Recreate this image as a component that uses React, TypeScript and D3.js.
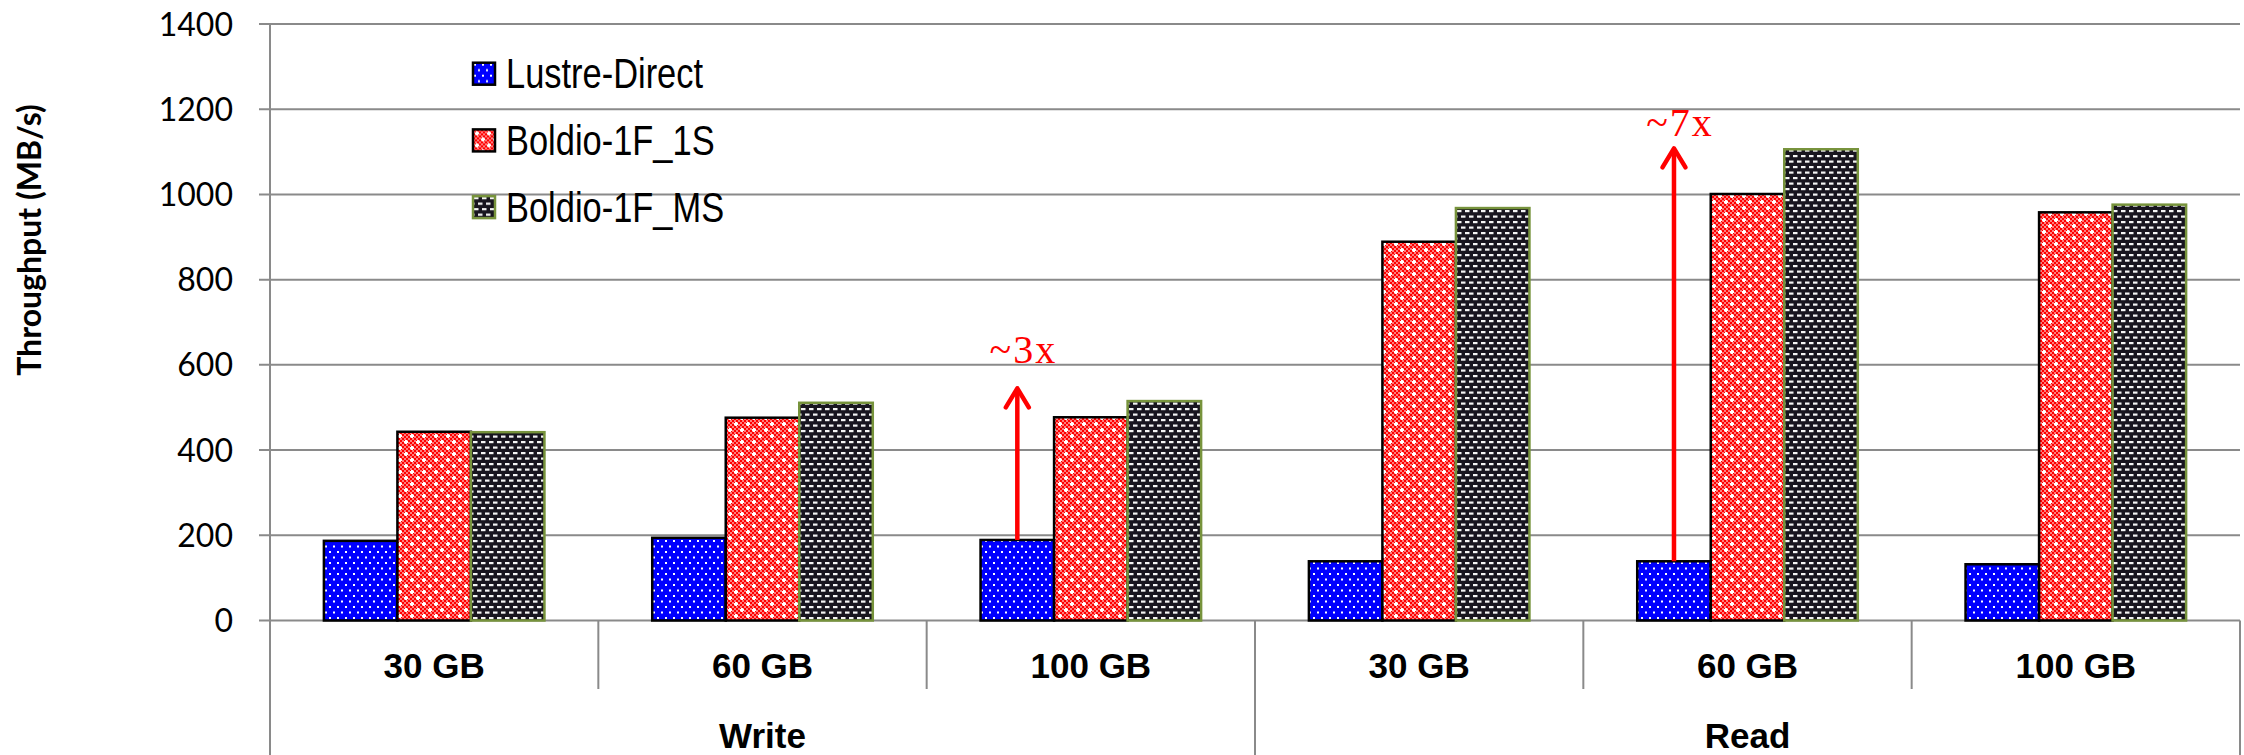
import React from "react";
import * as d3 from "d3";

// Throughput per workload (MB/s)
const groups = ["Write", "Read"];
const sizes = ["30 GB", "60 GB", "100 GB"];
const seriesNames = ["Lustre-Direct", "Boldio-1F_1S", "Boldio-1F_MS"];
const lustreDirect = [187, 194, 189, 139, 139, 132];
const boldio1F1S = [443, 476, 477, 889, 1001, 958];
const boldio1FMS = [442, 511, 515, 968, 1106, 976];
const yTicks = [0, 200, 400, 600, 800, 1000, 1200, 1400];

// Speed-up call-outs: arrow from the Lustre-Direct bar up to `tip`, label sits at `labelAt`
const speedups = [
  { cat: 2, tip: 545, labelAt: 604, label: "~3x" },
  { cat: 4, tip: 1108, labelAt: 1137, label: "~7x" },
];

const W = 2244;
const H = 755;
const left = 270;
const right = 2240;
const top = 24;
const zeroY = 620.5;
const grid = "#8a8a8a";

const catIdx = d3.range(groups.length * sizes.length);
const values = [lustreDirect, boldio1F1S, boldio1FMS];

const x0 = d3.scaleBand<number>().domain(catIdx).range([left, right]).paddingInner(0).paddingOuter(0);
const x1 = d3
  .scaleBand<number>()
  .domain([0, 1, 2])
  .range([0, x0.bandwidth()])
  .paddingInner(0)
  .paddingOuter(0.733);
const y = d3.scaleLinear().domain([0, 1400]).range([zeroY, top]);

const fills = ["url(#pLustre)", "url(#pOne)", "url(#pMulti)"];
const strokes = ["#000000", "#000000", "#77933c"];

export default function App() {
  const groupSpan = sizes.length * x0.step();
  return (
    <svg
      width={W}
      height={H}
      viewBox={`0 0 ${W} ${H}`}
      style={{ position: "absolute", left: 0, top: 0, background: "#fff" }}
    >
      <defs>
        <pattern id="pLustre" width={8} height={11} patternUnits="userSpaceOnUse">
          <rect width={8} height={11} fill="#0000ff" />
          <rect x={1} y={1} width={2} height={2} fill="#fff" />
          <rect x={5} y={6.5} width={2} height={2} fill="#fff" />
        </pattern>
        <pattern id="pOne" width={12} height={12} patternUnits="userSpaceOnUse">
          <rect width={12} height={12} fill="#ff0000" />
          {d3.range(6).flatMap((i) =>
            d3.range(6).map((j) =>
              (i + j) % 2 === 1 ? (
                <rect key={`${i}-${j}`} x={i * 2 + 0.3} y={j * 2 + 0.3} width={1.4} height={1.4} fill="#fff" />
              ) : null
            )
          )}
          <rect x={2} y={3} width={4} height={2} fill="#fff" />
          <rect x={3} y={2} width={2} height={4} fill="#fff" />
          <rect x={8} y={9} width={4} height={2} fill="#fff" />
          <rect x={9} y={8} width={2} height={4} fill="#fff" />
        </pattern>
        <pattern id="pMulti" width={8} height={11} patternUnits="userSpaceOnUse">
          <rect width={8} height={11} fill="#18151f" />
          <rect x={1} y={1} width={4.5} height={2.2} fill="#f4f4f4" />
          <rect x={5} y={6.5} width={4.5} height={2.2} fill="#f4f4f4" />
          <rect x={-3} y={6.5} width={4.5} height={2.2} fill="#f4f4f4" />
        </pattern>
      </defs>

      {/* horizontal gridlines */}
      {yTicks.map((t) => (
        <line key={`g${t}`} x1={left - 11} x2={right} y1={y(t)} y2={y(t)} stroke={grid} strokeWidth={2} />
      ))}

      {/* value axis */}
      <line x1={left} x2={left} y1={top} y2={H} stroke={grid} strokeWidth={2} />
      {yTicks.map((t) => (
        <text
          key={`t${t}`}
          x={233}
          y={y(t) + 11.5}
          textAnchor="end"
          fontFamily="Lato, 'Open Sans', sans-serif"
          fontSize={32}
          fill="#000"
        >
          {t}
        </text>
      ))}
      <text
        transform="translate(41,240) rotate(-90)"
        textAnchor="middle"
        fontFamily="Lato, 'Open Sans', sans-serif"
        fontWeight="bold"
        fontSize={32}
        fill="#000"
      >
        Throughput (MB/s)
      </text>

      {/* bars */}
      {values.map((vals, s) =>
        vals.map((v, c) => (
          <rect
            key={`b${s}-${c}`}
            x={(x0(c) as number) + (x1(s) as number)}
            y={y(v)}
            width={x1.bandwidth()}
            height={zeroY - y(v)}
            fill={fills[s]}
            stroke={strokes[s]}
            strokeWidth={2.5}
          />
        ))
      )}

      {/* category axis: size row and group row */}
      {catIdx.map((c) => (
        <g key={`c${c}`}>
          {c % sizes.length !== 0 && (
            <line x1={x0(c)} x2={x0(c)} y1={zeroY} y2={689} stroke={grid} strokeWidth={2} />
          )}
          <text
            x={(x0(c) as number) + x0.bandwidth() / 2}
            y={678}
            textAnchor="middle"
            fontFamily="'Liberation Sans', Arial, sans-serif"
            fontWeight="bold"
            fontSize={35}
            fill="#000"
          >
            {sizes[c % sizes.length]}
          </text>
        </g>
      ))}
      {groups.map((g, i) => (
        <g key={`grp${g}`}>
          <line
            x1={left + (i + 1) * groupSpan}
            x2={left + (i + 1) * groupSpan}
            y1={zeroY}
            y2={H}
            stroke={grid}
            strokeWidth={2}
          />
          <text
            x={left + (i + 0.5) * groupSpan}
            y={748}
            textAnchor="middle"
            fontFamily="'Liberation Sans', Arial, sans-serif"
            fontWeight="bold"
            fontSize={35}
            fill="#000"
          >
            {g}
          </text>
        </g>
      ))}

      {/* speed-up arrows */}
      {speedups.map((a) => {
        const cx = (x0(a.cat) as number) + (x1(0) as number) + x1.bandwidth() / 2;
        const y0 = y(lustreDirect[a.cat]);
        const yt = y(a.tip);
        return (
          <g key={a.label}>
            <line x1={cx} x2={cx} y1={y0} y2={yt + 2} stroke="#ff0000" strokeWidth={4.5} />
            <path
              d={`M${cx - 11.5},${yt + 19} L${cx},${yt} L${cx + 11.5},${yt + 19}`}
              fill="none"
              stroke="#ff0000"
              strokeWidth={4.5}
              strokeLinecap="round"
              strokeLinejoin="round"
            />
            <text
              x={cx + 6}
              y={y(a.labelAt)}
              textAnchor="middle"
              fontFamily="'Liberation Serif', 'DejaVu Serif', serif"
              fontSize={40}
              letterSpacing={2}
              fill="#ff0000"
            >
              {a.label}
            </text>
          </g>
        );
      })}

      {/* legend */}
      {seriesNames.map((name, i) => (
        <g key={name} transform={`translate(473,${62.7 + i * 66.7})`}>
          <rect x={0} y={0} width={22} height={22} fill={fills[i]} stroke={strokes[i]} strokeWidth={2.5} />
          <text
            transform="translate(33,25.5) scale(0.82,1)"
            fontFamily="'Liberation Sans', Arial, sans-serif"
            fontSize={42}
            fill="#000"
          >
            {name}
          </text>
        </g>
      ))}
    </svg>
  );
}
